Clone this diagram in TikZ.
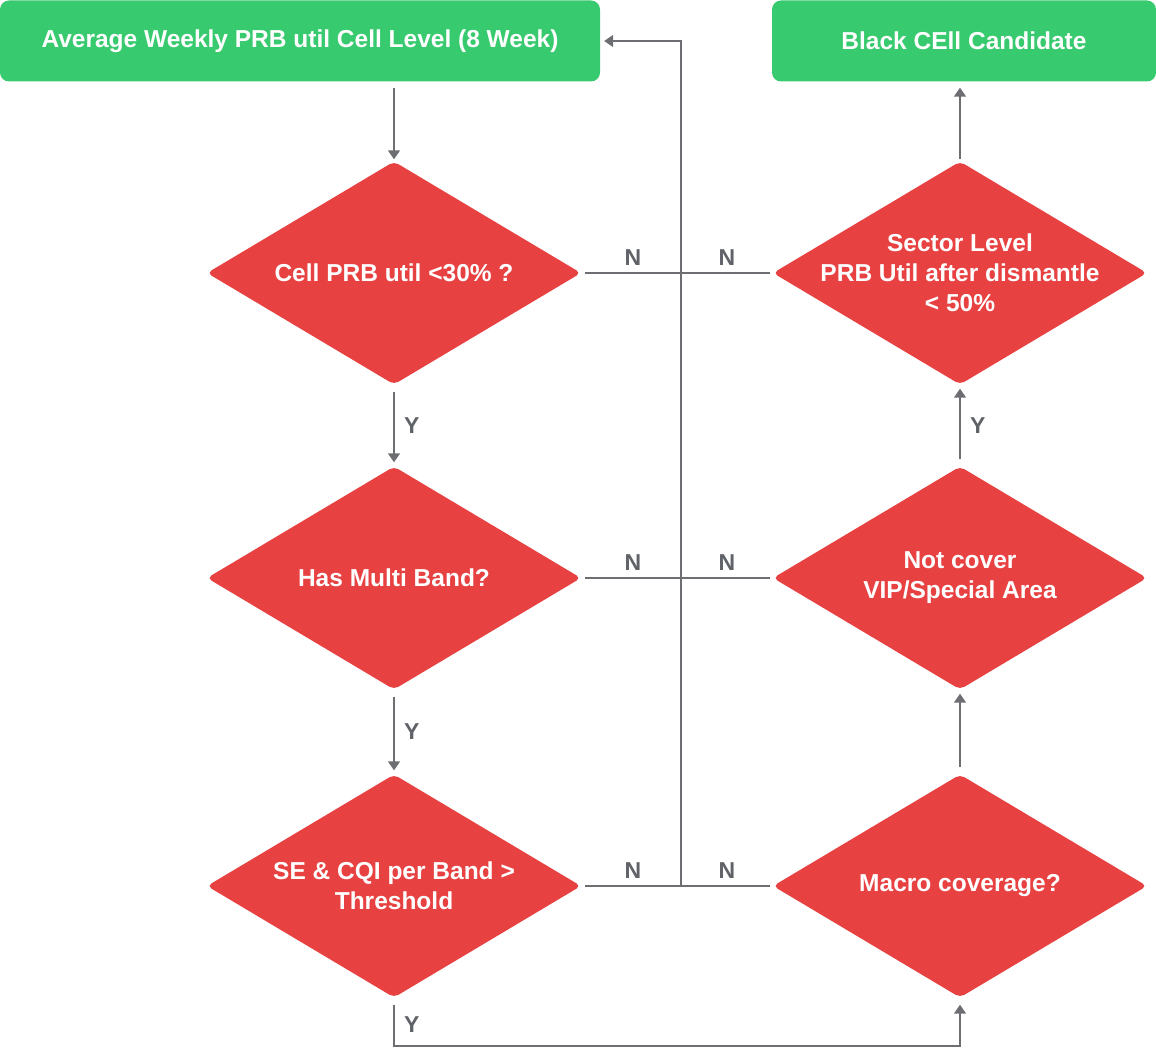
\documentclass[tikz,border=0pt]{standalone}
\usepackage{fontspec}
\setmainfont{Liberation Sans}
\usetikzlibrary{shapes.geometric, arrows.meta, positioning}
\definecolor{boxgreen}{HTML}{38CA6E}
\definecolor{diared}{HTML}{E84142}
\definecolor{linegray}{HTML}{6D6E71}
\definecolor{labelgray}{HTML}{5F6368}
\tikzset{
  box/.style={rectangle, rounded corners=9pt, fill=boxgreen, text=white,
    minimum height=81pt, inner sep=0pt, font=\fontsize{24.5}{30}\selectfont\bfseries},
  dia/.style={diamond, rounded corners=5pt, fill=diared,
    minimum width=374pt, minimum height=223pt, inner sep=0pt},
  dtxt/.style={text=white, align=center, inner sep=0pt,
    font=\fontsize{24.5}{30}\selectfont\bfseries},
  conn/.style={draw=linegray, line width=1.6pt},
  tri/.style={-{Triangle[length=9pt,width=12pt]}},
  lbl/.style={text=labelgray, font=\fontsize{23}{24}\selectfont\bfseries}
}
\begin{document}
\begin{tikzpicture}[x=1pt, y=-1pt]
  \useasboundingbox (0,0) rectangle (1156,1048);
  % boxes on top
  \node [box, minimum width=600pt] (avg) at (300,41) {\raisebox{-1.5pt}{Average Weekly PRB util Cell Level (8 Week)}};
  \node [box, minimum width=384pt] (black) at (964,41) {Black CEll Candidate};
  % left column
  \node [dia, label={[dtxt]center:Cell PRB util <30\% ?}] (prb) at (394,273) {};
  \node [dia, label={[dtxt]center:Has Multi Band?}] (multi) at (394,578) {};
  \node [dia, label={[dtxt]center:SE \& CQI per Band >\\Threshold}] (se) at (394,886) {};
  % right column
  \node [dia, label={[dtxt]center:Sector Level\\PRB Util after dismantle\\< 50\%}] (sector) at (960,273) {};
  \node [dia, label={[dtxt]center:Not cover\\VIP/Special Area}] (vip) at (960,578) {};
  \node [dia, label={[dtxt]center:Macro coverage?}] (macro) at (960,886) {};
  \coordinate (spine) at (681,41);

  % yes path
  \draw [conn, tri, shorten <=6pt, shorten >=2pt] (prb.north |- avg.south) -- (prb.north);
  \draw [conn, tri, shorten <=7pt, shorten >=4pt] (prb.south) -- node [lbl, right=6pt] {Y} (multi.north);
  \draw [conn, tri, shorten <=7pt, shorten >=4pt] (multi.south) -- node [lbl, right=6pt] {Y} (se.north);
  \draw [conn, tri, shorten <=7pt, shorten >=7pt] (se.south) -- ++(0,48)
    node [lbl, pos=0.55, right=6pt] {Y} -| (macro.south);
  \draw [conn, tri, shorten <=7pt, shorten >=4pt] (macro.north) -- (vip.south);
  \draw [conn, tri, shorten <=7pt, shorten >=4pt] (vip.north) -- node [lbl, right=6pt] {Y} (sector.south);
  \draw [conn, tri, shorten <=2pt, shorten >=6pt] (sector.north) -- (sector.north |- black.south);

  % no path
  \foreach \l/\r in {prb/sector, multi/vip, se/macro} {
    \draw [conn, shorten <=4pt, shorten >=3pt] (\l.east) -- (\r.west);
    \node [lbl] at ([yshift=15pt]\l.east -| 633,0) {N};
    \node [lbl] at ([yshift=15pt]\r.west -| 727,0) {N};
  }
  \draw [conn, tri, shorten >=4pt] (spine |- se.east) -- (spine) -- (avg.east);
\end{tikzpicture}
\end{document}
